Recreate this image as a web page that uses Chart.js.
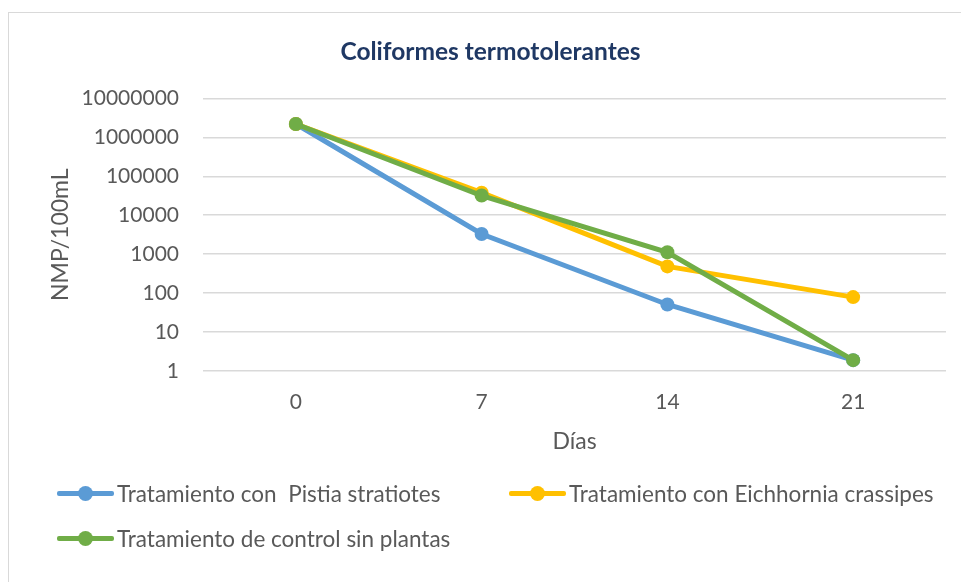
<!DOCTYPE html>
<html>
<head>
<meta charset="utf-8">
<script src="https://cdn.jsdelivr.net/npm/chart.js@4.4.1/dist/chart.umd.min.js"></script>
<style>
  body { margin: 0; background: #fff; font-family: Lato, sans-serif; }
  #frame { position: absolute; left: 8px; top: 12px; width: 1000px; height: 600px; border: 1px solid #d9d9d9; }
  #wrap { position: absolute; left: 0; top: 0; width: 953px; height: 570px; }
  #legend { position: absolute; left: 0; top: 0; width: 953px; height: 570px; pointer-events: none; }
  .item { position: absolute; display: flex; align-items: center; height: 30px; color: #595959; font-size: 22.5px; white-space: pre; }
  .mark { position: relative; width: 57px; height: 15px; margin-right: 3px; }
  .mark .ln { position: absolute; left: 0; right: 0; top: 5px; height: 5px; border-radius: 2px; }
  .mark .dt { position: absolute; left: 21px; top: 0; width: 15px; height: 15px; border-radius: 50%; }
</style>
</head>
<body>
<div id="frame">
  <div id="wrap"><canvas id="coliChart" width="953" height="570"></canvas></div>
  <div id="legend"></div>
</div>
<script>
const days = ['0', '7', '14', '21'];
const pistia = [2200000, 3300, 51, 1.9];
const eichhornia = [2200000, 38000, 485, 79];
const control = [2200000, 32000, 1120, 1.9];
const yTicks = [1, 10, 100, 1000, 10000, 100000, 1000000, 10000000];

const seriesNames = ['Tratamiento con  Pistia stratiotes', 'Tratamiento con Eichhornia crassipes', 'Tratamiento de control sin plantas'];
const seriesColors = ['#5B9BD5', '#FFC000', '#70AD47'];
const seriesData = [pistia, eichhornia, control];

const grey = '#595959';

const datasets = seriesData.map((d, i) => ({
    label: seriesNames[i],
    data: d,
    borderColor: seriesColors[i],
    backgroundColor: seriesColors[i],
    borderWidth: 5,
    pointRadius: 7,
    pointHoverRadius: 7,
    pointBorderWidth: 0,
    tension: 0,
    order: 3 - i
}));

const ctx = document.getElementById('coliChart').getContext('2d');
new Chart(ctx, {
    type: 'line',
    data: { labels: days, datasets: datasets },
    options: {
        responsive: false,
        animation: false,
        layout: { padding: { left: 26, right: 16, top: 0, bottom: 127 } },
        plugins: {
            legend: { display: false },
            tooltip: { enabled: false },
            title: {
                display: true,
                text: 'Coliformes termotolerantes',
                color: '#1F3864',
                font: { family: 'Lato', size: 24.5, weight: 'bold' },
                padding: { top: 24, bottom: 32 }
            }
        },
        scales: {
            x: {
                offset: true,
                grid: { display: false, drawTicks: false },
                border: { display: false },
                ticks: { color: grey, font: { family: 'Lato', size: 21 }, padding: 19 },
                title: { display: true, text: 'Días', color: grey, font: { family: 'Lato', size: 23 }, padding: { top: 0, bottom: 1 } },
                afterFit: scale => { scale.height = 85; }
            },
            y: {
                type: 'logarithmic',
                min: 1,
                max: 10000000,
                grid: { color: '#d9d9d9', lineWidth: 1.5, drawTicks: false },
                border: { display: false },
                afterBuildTicks: scale => { scale.ticks = yTicks.map(v => ({ value: v })); },
                ticks: { color: grey, font: { family: 'Lato', size: 21 }, padding: 24, callback: v => String(v) },
                title: { display: true, text: 'NMP/100mL', color: grey, font: { family: 'Lato', size: 23 }, padding: { top: 12, bottom: 0 } },
                afterFit: scale => { scale.width = 168; }
            }
        }
    }
});

// legend laid out like the original: two columns, wrapping to a second row
const legendPos = [[48, 465], [500, 465], [48, 510]];
const legend = document.getElementById('legend');
seriesNames.forEach((name, i) => {
    const el = document.createElement('div');
    el.className = 'item';
    el.style.left = legendPos[i][0] + 'px';
    el.style.top = legendPos[i][1] + 'px';
    el.innerHTML = '<span class="mark"><span class="ln" style="background:' + seriesColors[i] + '"></span><span class="dt" style="background:' + seriesColors[i] + '"></span></span>';
    el.appendChild(document.createTextNode(name));
    legend.appendChild(el);
});
</script>
</body>
</html>
